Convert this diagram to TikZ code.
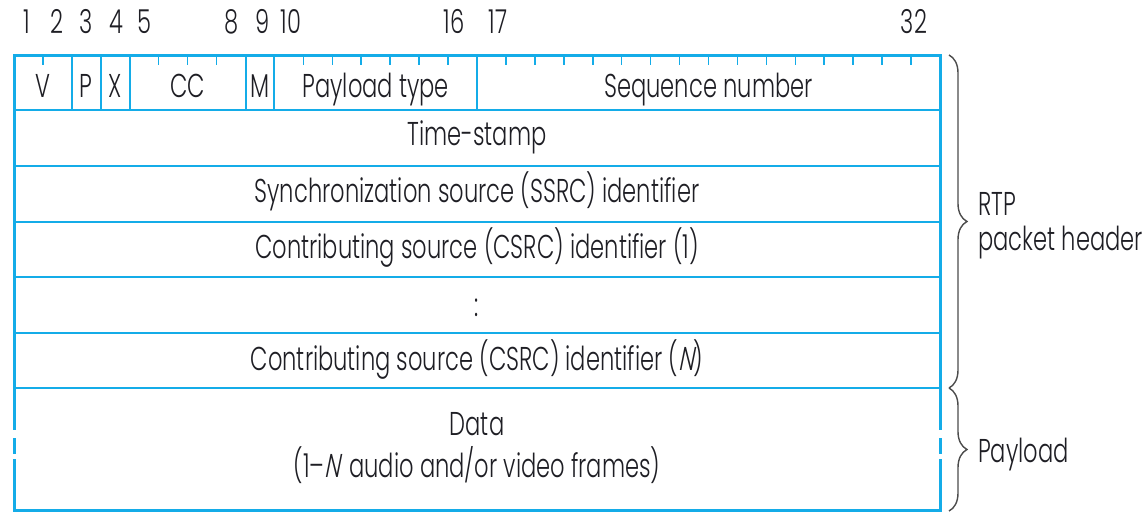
\documentclass[tikz,border=0pt]{standalone}
\usepackage{fontspec}
\setmainfont{Poppins}[UprightFont=* Light, FakeStretch=0.685, ItalicFont=* Light, ItalicFeatures={FakeSlant=0.2}]
\usetikzlibrary{decorations.pathreplacing}
\definecolor{frameblue}{RGB}{20,172,232}
\definecolor{ink}{RGB}{30,30,36}
\begin{document}
\begin{tikzpicture}[x=1pt,y=-1pt,
  frame/.style={draw=frameblue, line width=3pt},
  rule/.style={draw=frameblue, line width=2pt},
  tickmark/.style={draw=frameblue, line width=1.6pt},
  lbl/.style={text=ink, font=\fontsize{33}{38}\selectfont, inner sep=0pt, anchor=base},
  sidelbl/.style={lbl, anchor=base west},
  bracestyle/.style={draw=black!70, line width=1.4pt, decorate,
    decoration={brace, amplitude=18pt}},
]
\useasboundingbox (0,0) rectangle (1146,512);
\def\L{14}\def\R{940}\def\Mid{477}
\pgfmathsetmacro\bw{(\R-\L)/32}

% outer frame, broken on both sides of the data field
\draw[frame, line cap=rect] (\L,428) -- (\L,55) -- (\R,55) -- (\R,428);
\draw[frame, line cap=rect] (\L,460) -- (\L,510) -- (\R,510) -- (\R,460);
\draw[frame] (\L,438) -- (\L,454);
\draw[frame] (\R,438) -- (\R,454);

% 32-bit words
\foreach \y in {110,166,222,277,333,388}
  \draw[rule] (\L,\y) -- (\R,\y);

% field boundaries of the first word
\foreach \k in {2,3,4,8,9,16}
  \draw[rule] ({\L+\k*\bw},55) -- ({\L+\k*\bw},110);

% bit ticks inside the fields
\foreach \k in {1,5,6,7,10,11,12,13,14,15,17,18,...,31}
  \draw[tickmark] ({\L+\k*\bw},55) -- ({\L+\k*\bw},65);

% bit numbers
\node[lbl] (b1)  at (27,33)  {1};
\node[lbl] (b2)  at (57,33)  {2};
\node[lbl] (b3)  at (86,33)  {3};
\node[lbl] (b4)  at (116,33) {4};
\node[lbl] (b5)  at (144,33) {5};
\node[lbl] (b8)  at (232,33) {8};
\node[lbl] (b9)  at (263,33) {9};
\node[lbl] (b10) at (291,33) {10};
\node[lbl] (b16) at (454,33) {16};
\node[lbl] (b17) at (498,33) {17};
\node[lbl] (b32) at (914,33) {32};

% first word fields
\node[lbl] (fV)   at ({\L+1*\bw},97)   {V};
\node[lbl] (fP)   at ({\L+2.5*\bw},97) {P};
\node[lbl] (fX)   at ({\L+3.5*\bw},97) {X};
\node[lbl] (fCC)  at ({\L+6*\bw},97)   {CC};
\node[lbl] (fM)   at ({\L+8.5*\bw},97) {M};
\node[lbl] (fPT)  at ({\L+12.5*\bw},97) {Payload type};
\node[lbl] (fSeq) at ({\L+24*\bw},97)  {Sequence number};

% remaining header words
\node[lbl] (fTS)   at (\Mid,145) {Time-stamp};
\node[lbl] (fSSRC) at (\Mid,202) {Synchronization source (SSRC) identifier};
\node[lbl] (fCS1)  at (\Mid,258) {Contributing source (CSRC) identifier (1)};
\node[lbl] (fDots) at (\Mid,316) {:};
\node[lbl] (fCSN)  at (\Mid,370) {Contributing source (CSRC) identifier (\textit{N})};

% payload
\node[lbl] (fData)  at (\Mid,435) {Data};
\node[lbl] (fFrame) at (\Mid,477) {(1–\textit{N}\hspace{0.28em}audio and/or video frames)};

% braces and their labels
\coordinate (hdrTop) at (949,55);
\coordinate (hdrBot) at (949,388);
\coordinate (payBot) at (949,511);
\draw[bracestyle] (hdrTop) -- (hdrBot);
\draw[bracestyle] (hdrBot) -- (payBot);
\node[sidelbl] (rtp)    at (978,215) {RTP};
\node[sidelbl] (pkthdr) at (978,250) {packet header};
\node[sidelbl] (pay)    at (978,462) {Payload};
\end{tikzpicture}
\end{document}
